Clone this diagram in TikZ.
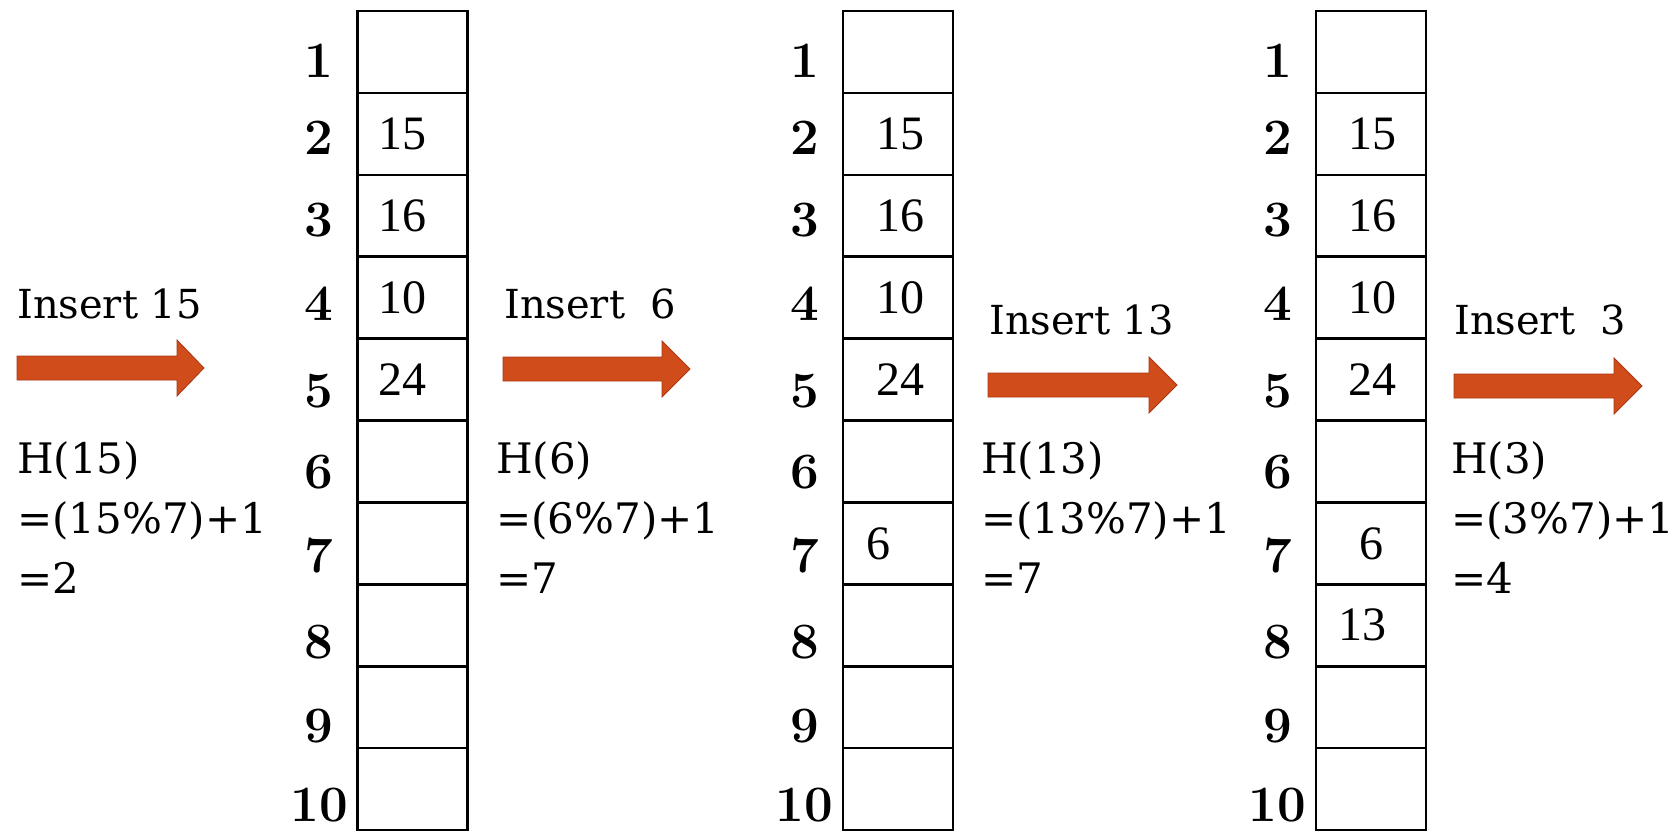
\documentclass[tikz,border=0pt]{standalone}
\usepackage{fontspec}
\newfontfamily\dvserif{DejaVu Serif}
\newfontfamily\lbserif{Liberation Serif}
\definecolor{arrowfill}{RGB}{208,76,26}
\definecolor{arrowline}{RGB}{170,55,20}
\begin{document}
\begin{tikzpicture}[x=1pt,y=-1pt,
  cell/.style={draw, line width=2.6pt, minimum width=110pt, minimum height=81.9pt, inner sep=0pt},
  idx/.style={font=\fontsize{51}{51}\selectfont\bfseries, inner sep=0pt},
  val/.style={font=\lbserif\fontsize{48}{48}\selectfont, inner sep=0pt},
  ins/.style={font=\dvserif\fontsize{40}{40}\selectfont, inner sep=0pt, anchor=base west},
  hline/.style={font=\dvserif\fontsize{42}{42}\selectfont, inner sep=0pt, anchor=base west},
  blk/.style={fill=arrowfill, draw=arrowline, line width=0.8pt, line join=miter}]
\useasboundingbox (0,0) rectangle (1678,831);

% tables
\foreach \t/\cx in {1/412.5, 2/898, 3/1371} {
  \foreach \k in {1,...,10} {
    \node[cell] (t\t c\k) at (\cx, {11+(\k-0.5)*81.9}) {};
  }
  \foreach \k/\ly in {1/61, 2/138, 3/220, 4/304, 5/391, 6/472, 7/556, 8/642, 9/726, 10/805} {
    \node[idx] (t\t l\k) at ({\cx-55.5-38}, \ly) {\k};
  }
}

% values table 1
\node[val, anchor=west] (v1b) at ([xshift=22pt]t1c2.west) {15};
\node[val, anchor=west] (v1c) at ([xshift=22pt]t1c3.west) {16};
\node[val, anchor=west] (v1d) at ([xshift=22pt]t1c4.west) {10};
\node[val, anchor=west] (v1e) at ([xshift=22pt]t1c5.west) {24};
% values table 2
\node[val] (v2b) at ([xshift=2pt]t2c2.center) {15};
\node[val] (v2c) at ([xshift=2pt]t2c3.center) {16};
\node[val] (v2d) at ([xshift=2pt]t2c4.center) {10};
\node[val] (v2e) at ([xshift=2pt]t2c5.center) {24};
\node[val, anchor=west] (v2g) at ([xshift=25pt]t2c7.west) {6};
% values table 3
\node[val] (v3b) at ([xshift=1pt]t3c2.center) {15};
\node[val] (v3c) at ([xshift=1pt]t3c3.center) {16};
\node[val] (v3d) at ([xshift=1pt]t3c4.center) {10};
\node[val] (v3e) at ([xshift=1pt]t3c5.center) {24};
\node[val] (v3g) at (t3c7.center) {6};
\node[val] (v3h) at ([xshift=-9pt]t3c8.center) {13};

% block arrows
\path[blk] (17,356) -- (177,356) -- (177,340) -- (204,368) -- (177,396) -- (177,380) -- (17,380) -- cycle;
\path[blk] (503,357) -- (662,357) -- (662,341) -- (690,369) -- (662,397) -- (662,381) -- (503,381) -- cycle;
\path[blk] (988,373) -- (1149,373) -- (1149,357) -- (1177,385) -- (1149,413) -- (1149,397) -- (988,397) -- cycle;
\path[blk] (1454,374) -- (1614,374) -- (1614,358) -- (1642,386) -- (1614,414) -- (1614,398) -- (1454,398) -- cycle;

% texts group 1
\node[ins] (i1) at (17,318) {Insert 15};
\node[hline] (h1a) at (17,473) {H(15)};
\node[hline] (h1b) at (17,533) {=(15\%7)+1};
\node[hline] (h1c) at (17,593) {=2};
% group 2
\node[ins] (i2) at (504,318) {Insert\ \ 6};
\node[hline] (h2a) at (496,473) {H(6)};
\node[hline] (h2b) at (496,533) {=(6\%7)+1};
\node[hline] (h2c) at (496,593) {=7};
% group 3
\node[ins] (i3) at (989,334) {Insert 13};
\node[hline] (h3a) at (981,473) {H(13)};
\node[hline] (h3b) at (981,533) {=(13\%7)+1};
\node[hline] (h3c) at (981,593) {=7};
% group 4
\node[ins] (i4) at (1454,334) {Insert\ \ 3};
\node[hline] (h4a) at (1451,473) {H(3)};
\node[hline] (h4b) at (1451,533) {=(3\%7)+1};
\node[hline] (h4c) at (1451,593) {=4};
\end{tikzpicture}
\end{document}
